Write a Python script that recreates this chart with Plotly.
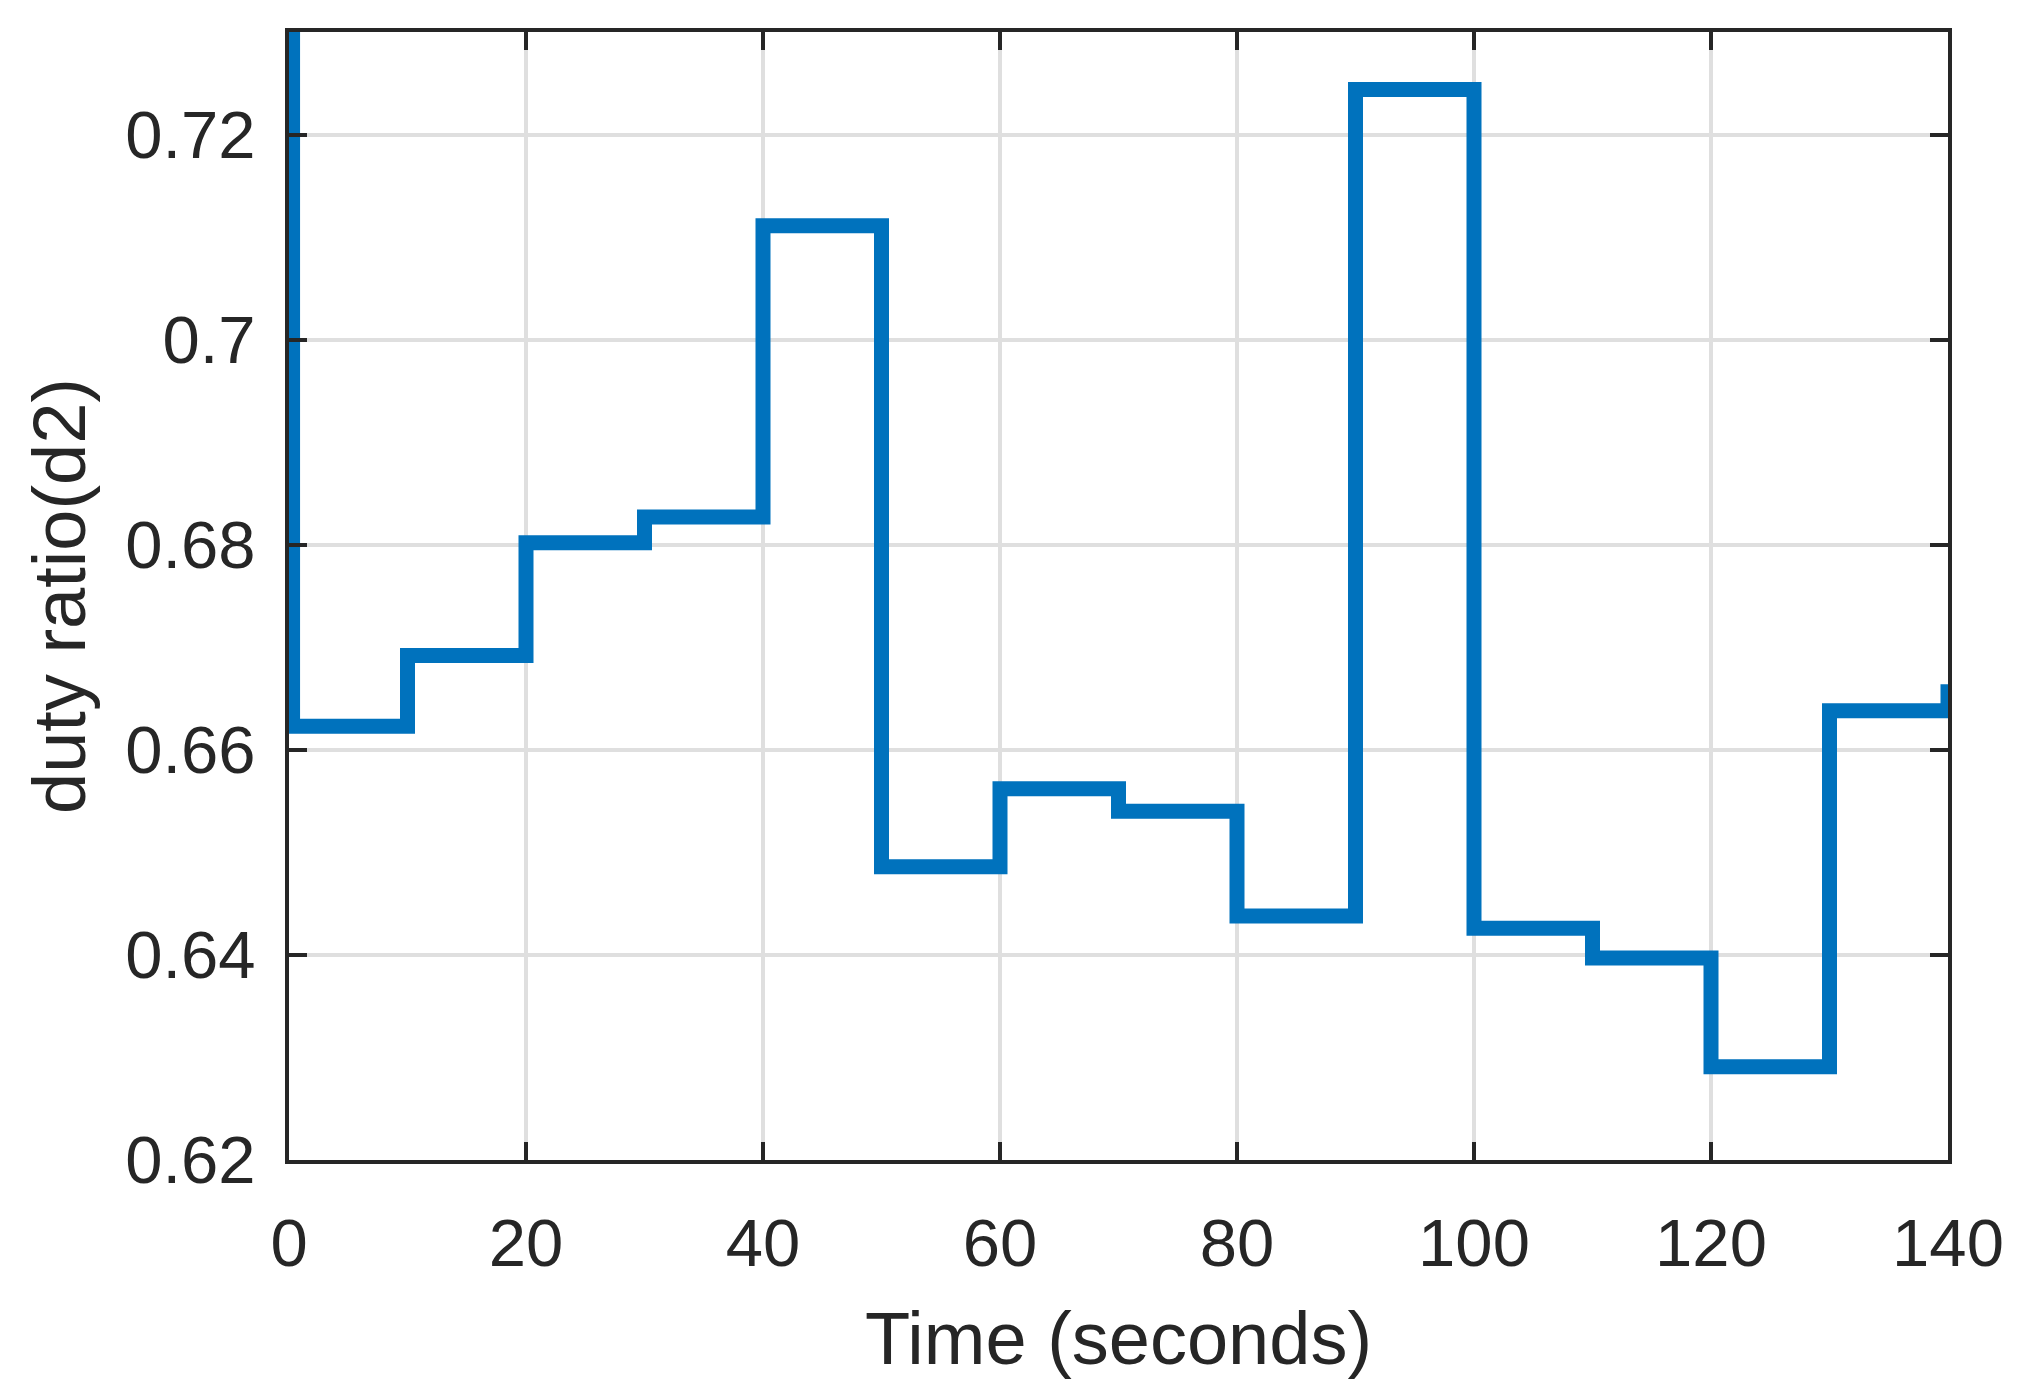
import plotly.graph_objects as go

# Step times (s) and duty-ratio levels
times = [0, 0.3, 10, 20, 30, 40, 50, 60, 70, 80, 90, 100, 110, 120, 130, 140]
duty_d2 = [0.76, 0.6623, 0.6692, 0.6802, 0.6827, 0.7111, 0.6486, 0.6562,
           0.6540, 0.6438, 0.7244, 0.6426, 0.6397, 0.6291, 0.6638, 0.6664]

x_ticks = [0, 20, 40, 60, 80, 100, 120, 140]
y_ticks = [0.62, 0.64, 0.66, 0.68, 0.70, 0.72]
y_tick_text = ["0.62", "0.64", "0.66", "0.68", "0.7", "0.72"]

TXT = "#262626"
FONT = "Arial, Liberation Sans, sans-serif"

fig = go.Figure()
fig.add_trace(go.Scatter(
    x=times, y=duty_d2, mode="lines", line_shape="hv",
    line=dict(color="#0072BD", width=15), showlegend=False,
))

axis_common = dict(
    showline=True, linecolor=TXT, linewidth=4, mirror="allticks",
    ticks="inside", ticklen=18, tickwidth=4, tickcolor=TXT,
    showgrid=True, gridcolor="#dfdfdf", gridwidth=4,
    zeroline=False, automargin=False,
    tickfont=dict(family=FONT, size=67, color=TXT),
)

fig.update_xaxes(
    range=[0, 140], tickvals=x_ticks, ticktext=[str(v) for v in x_ticks],
    title=dict(text="Time (seconds)", font=dict(family=FONT, size=74, color=TXT), standoff=34),
    ticklabelstandoff=22,
    **axis_common,
)
fig.update_yaxes(
    range=[0.62, 0.73], tickvals=y_ticks, ticktext=y_tick_text,
    title=dict(text="duty ratio(d2)", font=dict(family=FONT, size=74, color=TXT), standoff=16),
    ticklabelstandoff=16,
    **axis_common,
)

# page body has an 8px default margin, so the figure is sized to fill the rest
fig.update_layout(
    width=2010, height=1387, autosize=False,
    margin=dict(l=281, r=70, t=24, b=235),
    paper_bgcolor="white", plot_bgcolor="white",
    font=dict(family=FONT, color=TXT),
)

fig.write_html("out.html")
